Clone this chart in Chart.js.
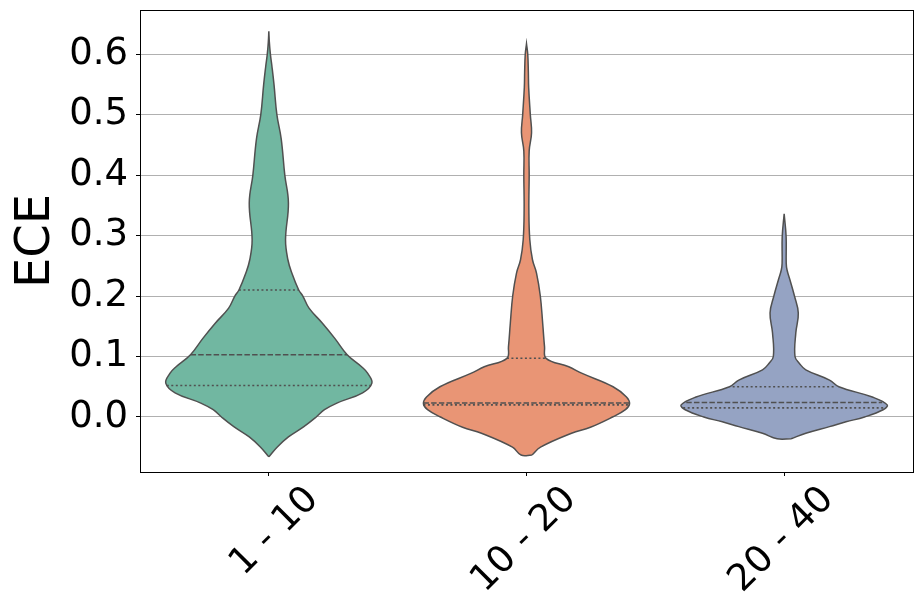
<!DOCTYPE html>
<html>
<head>
<meta charset="utf-8">
<script src="https://cdn.jsdelivr.net/npm/chart.js@4"></script>
<style>
  body { margin: 0; background: #fff; }
  #wrap { width: 924px; height: 616px; }
</style>
</head>
<body>
<div id="wrap"><canvas id="ViolinChart"></canvas></div>
<script>
const categories = ['1 - 10', '10 - 20', '20 - 40'];

// violin outlines, bottom to top:
// ECE level and relative half width (1 = widest point of that violin)
const levels_1_10 = [-0.066, -0.05, -0.033, -0.016, 0.0, 0.012, 0.023, 0.04, 0.056, 0.072, 0.083, 0.103, 0.13, 0.155, 0.18, 0.2, 0.21, 0.238, 0.26, 0.293, 0.354, 0.40, 0.46, 0.50, 0.55, 0.58, 0.60, 0.62, 0.638];
const width_1_10  = [0, 0.08, 0.19, 0.34, 0.46, 0.54, 0.66, 0.91, 1.0, 0.96, 0.9, 0.76, 0.64, 0.52, 0.39, 0.33, 0.29, 0.223, 0.185, 0.162, 0.19, 0.155, 0.12, 0.078, 0.05, 0.03, 0.015, 0.005, 0];

const levels_10_20 = [-0.063, -0.05, -0.027, -0.017, 0.0, 0.012, 0.022, 0.033, 0.05, 0.072, 0.083, 0.097, 0.116, 0.155, 0.2, 0.238, 0.26, 0.293, 0.343, 0.40, 0.44, 0.47, 0.50, 0.545, 0.57, 0.60, 0.617];
const width_10_20  = [0.053, 0.136, 0.437, 0.62, 0.835, 0.96, 1.0, 0.97, 0.84, 0.54, 0.41, 0.19, 0.175, 0.157, 0.134, 0.097, 0.058, 0.032, 0.023, 0.026, 0.026, 0.049, 0.037, 0.021, 0.018, 0.012, 0];

const levels_20_40 = [-0.036, -0.027, -0.016, -0.008, 0.0, 0.012, 0.02, 0.033, 0.05, 0.061, 0.078, 0.089, 0.1, 0.139, 0.172, 0.2, 0.226, 0.243, 0.254, 0.298, 0.336];
const width_20_40  = [0.068, 0.21, 0.44, 0.6, 0.78, 0.96, 1.0, 0.855, 0.53, 0.44, 0.21, 0.146, 0.105, 0.113, 0.137, 0.1, 0.057, 0.028, 0.02, 0.019, 0];

const q1Values     = [0.052, 0.020, 0.015];
const medianValues = [0.103, 0.023, 0.024];
const q3Values     = [0.210, 0.097, 0.050];
const q1Widths     = [0.99, 1.0, 0.98];
const medianWidths = [0.76, 1.0, 0.95];
const q3Widths     = [0.29, 0.19, 0.5];

const yTicks = [0.0, 0.1, 0.2, 0.3, 0.4, 0.5, 0.6];

const fillColors = ['#71b7a1', '#e99575', '#95a3c3'];
const lineColor = '#505050';
const HALF = 0.4; // seaborn width=0.8

const profiles = [
  [levels_1_10, width_1_10],
  [levels_10_20, width_10_20],
  [levels_20_40, width_20_40]
];

function outline(levels, widths, c) {
  const right = levels.map((y, i) => ({x: c + HALF * widths[i], y: y}));
  const left = levels.map((y, i) => ({x: c - HALF * widths[i], y: y})).reverse();
  return right.concat(left, [right[0]]);
}

function span(value, w, c) {
  return [{x: c - HALF * w, y: value}, {x: c + HALF * w, y: value}];
}

const datasets = [];
profiles.forEach((p, i) => {
  datasets.push({
    data: outline(p[0], p[1], i),
    showLine: true,
    fill: 'shape',
    backgroundColor: fillColors[i],
    borderColor: lineColor,
    borderWidth: 1.5,
    pointRadius: 0,
    tension: 0.4,
    order: 2
  });
  [[q1Values, q1Widths, [2, 2.5]], [medianValues, medianWidths, [5.5, 2.2]], [q3Values, q3Widths, [2, 2.5]]].forEach(q => {
    datasets.push({
      data: span(q[0][i], q[1][i], i),
      showLine: true,
      fill: false,
      borderColor: lineColor,
      borderWidth: 1.6,
      borderDash: q[2],
      pointRadius: 0,
      order: 1
    });
  });
});

const frame = {
  id: 'frame',
  afterDatasetsDraw(chart) {
    const a = chart.chartArea;
    const ctx = chart.ctx;
    ctx.save();
    ctx.strokeStyle = '#000';
    ctx.lineWidth = 1;
    ctx.strokeRect(Math.round(a.left) + 0.5, Math.round(a.top) + 0.5,
                   Math.round(a.right - a.left), Math.round(a.bottom - a.top));
    ctx.restore();
  }
};

Chart.defaults.font.family = 'DejaVu Sans';
Chart.defaults.color = '#000';

new Chart(document.getElementById('ViolinChart'), {
  type: 'scatter',
  data: { datasets: datasets },
  options: {
    responsive: true,
    maintainAspectRatio: false,
    devicePixelRatio: 1,
    animation: false,
    layout: { padding: { top: 10, right: 11, left: 0, bottom: 0 } },
    plugins: { legend: { display: false }, tooltip: { enabled: false } },
    scales: {
      x: {
        type: 'linear',
        min: -0.5,
        max: 2.5,
        afterBuildTicks: axis => { axis.ticks = categories.map((_, i) => ({value: i})); },
        afterFit: s => { s.height = 144; s.paddingLeft = 0; s.paddingRight = 0; },
        grid: { drawOnChartArea: false, drawTicks: true, tickLength: 4, tickColor: '#000' },
        border: { display: true, color: '#000' },
        ticks: {
          autoSkip: false,
          minRotation: 45,
          maxRotation: 45,
          labelOffset: 44,
          padding: 2,
          font: { size: 37 },
          color: '#000',
          callback: v => categories[v]
        }
      },
      y: {
        min: -0.091,
        max: 0.673,
        afterBuildTicks: axis => { axis.ticks = yTicks.map(v => ({value: v})); },
        afterFit: s => { s.width = 140; s.paddingTop = 0; s.paddingBottom = 0; },
        grid: { color: '#b0b0b0', lineWidth: 1, tickLength: 4, tickColor: '#000' },
        border: { display: true, color: '#000' },
        ticks: {
          padding: 8,
          font: { size: 37 },
          color: '#000',
          callback: v => v.toFixed(1)
        },
        title: { display: true, text: 'ECE', font: { size: 48 }, color: '#000', padding: { top: 8, bottom: 0 } }
      }
    }
  },
  plugins: [frame]
});
</script>
</body>
</html>
